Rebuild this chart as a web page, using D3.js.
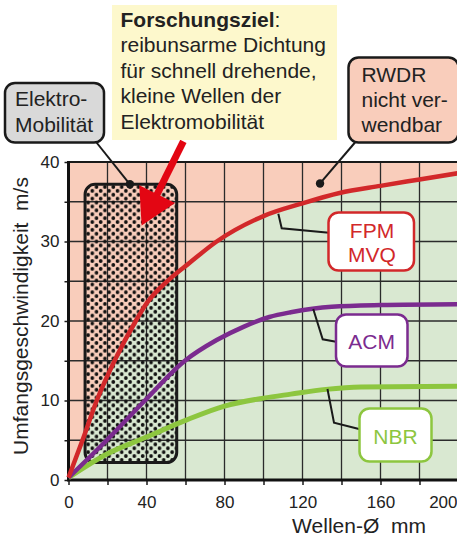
<!DOCTYPE html>
<html>
<head>
<meta charset="utf-8">
<script src="https://cdn.jsdelivr.net/npm/d3@7"></script>
<style>
  html, body { margin: 0; padding: 0; background: #fff; }
  svg { display: block; font-family: "Liberation Sans", Arial, sans-serif; }
</style>
</head>
<body>
<svg id="chart"></svg>
<script>
// tick values
const xTicks = [0, 20, 40, 60, 80, 100, 120, 140, 160, 180, 200];
const xLabels = [0, 40, 80, 120, 160, 200];
const yTicks = [0, 5, 10, 15, 20, 25, 30, 35, 40];
const yLabels = [0, 10, 20, 30, 40];

// curves: shaft diameter (mm) -> circumferential speed (m/s)
const fpmX = [0, 7.5, 14.5, 24, 34.5, 40, 52, 62, 76, 100, 120, 139, 160, 180, 200];
const fpmY = [0.3, 5.2, 10, 15.2, 20, 22.2, 25.3, 27.3, 30, 33.2, 34.8, 36.1, 37, 37.8, 38.6];
const acmX = [0, 19.6, 39.2, 59.7, 76, 90, 103, 114, 135, 160, 200];
const acmY = [0.3, 5, 10, 15, 17.6, 19.3, 20.5, 21.1, 21.8, 22, 22.1];
const nbrX = [0, 20, 40, 60, 80, 100, 114, 132, 150, 200];
const nbrY = [0.3, 3.3, 5.4, 7.5, 9.3, 10.3, 10.8, 11.4, 11.7, 11.8];

// e-mobility range (mm, m/s)
const emobX = [8.5, 55.5];
const emobY = [2.2, 37.2];

const width = 457, height = 537;
const svg = d3.select("#chart").attr("width", width).attr("height", height);

const x = d3.scaleLinear().domain([0, 200]).range([68.5, 458.5]);
const y = d3.scaleLinear().domain([0, 40]).range([480, 162]);

const toPts = (xs, ys) => xs.map((v, i) => [v, ys[i]]);
const fpm = toPts(fpmX, fpmY), acm = toPts(acmX, acmY), nbr = toPts(nbrX, nbrY);

const defs = svg.append("defs");
const pat = defs.append("pattern")
  .attr("id", "dots")
  .attr("patternUnits", "userSpaceOnUse")
  .attr("x", 86).attr("y", 185)
  .attr("width", 8.4).attr("height", 7.8);
pat.append("circle").attr("cx", 2.1).attr("cy", 1.95).attr("r", 1.85).attr("fill", "#111");
pat.append("circle").attr("cx", 6.3).attr("cy", 5.85).attr("r", 1.85).attr("fill", "#111");

// backgrounds
svg.append("rect")
  .attr("x", x(0)).attr("y", y(40))
  .attr("width", x(200) - x(0)).attr("height", y(0) - y(40))
  .attr("fill", "#f9cdbb");

svg.append("path")
  .datum(fpm)
  .attr("fill", "#d9e8d1")
  .attr("d", d3.area().curve(d3.curveMonotoneX)
    .x(d => x(d[0])).y0(y(0)).y1(d => y(d[1])));

// grid
svg.append("g").selectAll("line")
  .data(xTicks.slice(1))
  .enter().append("line")
  .attr("x1", d => x(d)).attr("x2", d => x(d))
  .attr("y1", y(0)).attr("y2", y(40))
  .attr("stroke", "#2b2b2b").attr("stroke-width", 1.3);

svg.append("g").selectAll("line")
  .data(yTicks.slice(1, -1))
  .enter().append("line")
  .attr("x1", x(0)).attr("x2", x(200))
  .attr("y1", d => y(d)).attr("y2", d => y(d))
  .attr("stroke", "#2b2b2b").attr("stroke-width", 1.3);

// e-mobility box
const ex0 = x(emobX[0]), ex1 = x(emobX[1]), ey0 = y(emobY[1]), ey1 = y(emobY[0]);
svg.append("rect")
  .attr("x", ex0).attr("y", ey0)
  .attr("width", ex1 - ex0).attr("height", ey1 - ey0)
  .attr("rx", 10)
  .attr("fill", "url(#dots)")
  .attr("stroke", "#1a1a1a").attr("stroke-width", 3);

// axes
const xAxis = svg.append("g")
  .attr("transform", `translate(0,${y(0)})`)
  .call(d3.axisBottom(x).tickValues(xTicks).tickSize(5)
    .tickFormat(d => xLabels.includes(d) ? d : ""));
const yAxis = svg.append("g")
  .attr("transform", `translate(${x(0)},0)`)
  .call(d3.axisLeft(y).tickValues(yTicks).tickSize(4).tickPadding(5)
    .tickFormat(d => yLabels.includes(d) ? d : ""));

[xAxis, yAxis].forEach(g => {
  g.select(".domain").remove();
  g.selectAll(".tick line").attr("stroke", "#1a1a1a").attr("stroke-width", 1.5);
  g.selectAll("text").attr("fill", "#222").attr("font-size", 17)
    .attr("font-family", "Liberation Sans, Arial, sans-serif");
});
xAxis.selectAll("text").attr("dy", null).attr("y", 28);
// last label pulled inside the window edge
xAxis.selectAll(".tick").filter(d => d === 200).select("text")
  .attr("text-anchor", "end").attr("x", -1.5);

svg.append("line")
  .attr("x1", x(0)).attr("x2", x(200)).attr("y1", y(40)).attr("y2", y(40))
  .attr("stroke", "#1a1a1a").attr("stroke-width", 2.2);
svg.append("line")
  .attr("x1", x(0) - 1.5).attr("x2", x(200)).attr("y1", y(0)).attr("y2", y(0))
  .attr("stroke", "#111").attr("stroke-width", 3);
svg.append("line")
  .attr("x1", x(0)).attr("x2", x(0)).attr("y1", y(40) - 1).attr("y2", y(0))
  .attr("stroke", "#111").attr("stroke-width", 3);

svg.append("text")
  .attr("x", 359).attr("y", 533)
  .attr("text-anchor", "middle").attr("font-size", 21).attr("fill", "#222")
  .attr("xml:space", "preserve")
  .text("Wellen-Ø  mm");

svg.append("text")
  .attr("transform", "translate(28,316) rotate(-90)")
  .attr("text-anchor", "middle").attr("font-size", 21).attr("fill", "#222")
  .attr("xml:space", "preserve")
  .text("Umfangsgeschwindigkeit  m/s");

// curves
const line = d3.line().curve(d3.curveMonotoneX).x(d => x(d[0])).y(d => y(d[1]));
svg.append("path").datum(nbr).attr("d", line)
  .attr("fill", "none").attr("stroke", "#8dc63f").attr("stroke-width", 5);
svg.append("path").datum(acm).attr("d", line)
  .attr("fill", "none").attr("stroke", "#7b2b8f").attr("stroke-width", 4.5);
svg.append("path").datum(fpm).attr("d", line)
  .attr("fill", "none").attr("stroke", "#d2282a").attr("stroke-width", 4.5);

// red arrow (data coords)
const arrowFrom = [58.9, 42.6], arrowTo = [37.5, 32];
{
  const x1 = x(arrowFrom[0]), y1 = y(arrowFrom[1]);
  const x2 = x(arrowTo[0]), y2 = y(arrowTo[1]);
  const len = Math.hypot(x2 - x1, y2 - y1);
  const ux = (x2 - x1) / len, uy = (y2 - y1) / len;
  const headLen = 35, headW = 20;
  const bx = x2 - ux * headLen, by = y2 - uy * headLen;
  svg.append("line")
    .attr("x1", x1).attr("y1", y1).attr("x2", bx + ux * 2).attr("y2", by + uy * 2)
    .attr("stroke", "#e30613").attr("stroke-width", 7);
  svg.append("polygon")
    .attr("points", [[x2, y2], [bx - uy * headW, by + ux * headW], [bx + uy * headW, by - ux * headW]].join(" "))
    .attr("fill", "#e30613");
}

// callouts
function box(b) {
  svg.append("rect")
    .attr("x", b.x).attr("y", b.y).attr("width", b.w).attr("height", b.h)
    .attr("rx", b.rx).attr("fill", b.fill)
    .attr("stroke", b.stroke || "none").attr("stroke-width", 2.5);
  const t = svg.append("text")
    .attr("font-size", 21).attr("fill", b.color)
    .attr("text-anchor", b.anchor || "start");
  b.lines.forEach((l, i) => {
    t.append("tspan").attr("x", b.tx).attr("y", b.ty + i * b.lh).text(l);
  });
  return t;
}

function leader(pts, dot) {
  svg.append("path")
    .attr("d", d3.line()(pts))
    .attr("fill", "none").attr("stroke", "#1a1a1a").attr("stroke-width", 2);
  if (dot) {
    const p = pts[pts.length - 1];
    svg.append("circle").attr("cx", p[0]).attr("cy", p[1]).attr("r", 4.2).attr("fill", "#1a1a1a");
  }
}

// yellow research goal box
svg.append("rect")
  .attr("x", 112).attr("y", 5).attr("width", 225).attr("height", 135)
  .attr("fill", "#fdf8cc");
const goal = svg.append("text").attr("font-size", 21).attr("fill", "#222");
const g0 = goal.append("tspan").attr("x", 120.5).attr("y", 27);
g0.append("tspan").attr("font-weight", "bold").text("Forschungsziel");
g0.append("tspan").text(":");
["reibunsarme Dichtung", "für schnell drehende,", "kleine Wellen der", "Elektromobilität"]
  .forEach((l, i) => goal.append("tspan").attr("x", 120.5).attr("y", 27 + (i + 1) * 25.4).text(l));

// Elektro-Mobilität
leader([[96.5, 142.5], [x(31.5), y(emobY[1])]], true);
box({ x: 5, y: 83, w: 99, h: 59.5, rx: 10, fill: "#d9d9d9", stroke: "#1a1a1a",
  color: "#222", lines: ["Elektro-", "Mobilität"], tx: 15, ty: 106, lh: 25.5 });

// RWDR nicht verwendbar
leader([[355, 142.5], [x(129), y(37.3)]], true);
box({ x: 348.5, y: 57.5, w: 110, h: 85, rx: 10, fill: "#f9cdbb", stroke: "#1a1a1a",
  color: "#222", lines: ["RWDR", "nicht ver-", "wendbar"], tx: 361.5, ty: 81.5, lh: 25 });

// series labels
leader([[x(107.6), y(33.5)], [281.7, 228.3], [329, 232.7]], false);
box({ x: 328.5, y: 212.5, w: 85.5, h: 58, rx: 10, fill: "#fff", stroke: "#d2282a",
  color: "#d2282a", anchor: "middle", lines: ["FPM", "MVQ"], tx: 372, ty: 237.5, lh: 24.5 });

leader([[x(125.5), y(21.5)], [322.7, 339.3], [336, 341.7]], false);
box({ x: 336, y: 314.5, w: 71.5, h: 52, rx: 10, fill: "#fff", stroke: "#7b2b8f",
  color: "#7b2b8f", anchor: "middle", lines: ["ACM"], tx: 371.7, ty: 348.5, lh: 24 });

leader([[x(132.8), y(11.45)], [334, 422.7], [360, 429.3]], false);
box({ x: 359.5, y: 408.5, w: 72, h: 53, rx: 10, fill: "#fff", stroke: "#8dc63f",
  color: "#8dc63f", anchor: "middle", lines: ["NBR"], tx: 395.5, ty: 443.5, lh: 24 });
</script>
</body>
</html>
